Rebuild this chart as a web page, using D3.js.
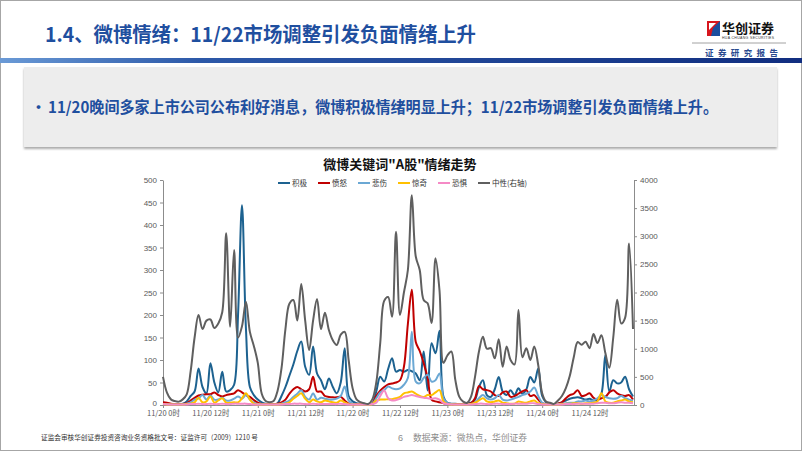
<!DOCTYPE html>
<html>
<head>
<meta charset="utf-8">
<script src="https://cdn.jsdelivr.net/npm/d3@7"></script>
<style>
  body { margin: 0; background: #fff; }
  svg { display: block; font-family: "Noto Sans CJK SC", "Noto Sans", sans-serif; }
</style>
</head>
<body>
<svg id="slide" width="802" height="451"></svg>
<script>
// hourly data, 11/20 0时 .. 11/24 23时
const tickLabels = ['11/20 0时', '11/20 12时', '11/21 0时', '11/21 12时', '11/22 0时',
  '11/22 12时', '11/23 0时', '11/23 12时', '11/24 0时', '11/24 12时'];
const tickHours = [0, 12, 24, 36, 48, 60, 72, 84, 96, 108];
const seriesNames = ['积极', '愤怒', '悲伤', '惊奇', '恐惧', '中性(右轴)'];

const positive = [5, 4, 2, 2, 2, 3, 8, 20, 30, 81,
  40, 26, 93, 50, 28, 74, 30, 33, 45, 200,
  444, 170, 40, 22, 12, 6, 3, 2, 2, 4,
  20, 40, 65, 90, 120, 141, 85, 67, 130, 70,
  55, 35, 59, 40, 26, 50, 126, 20, 8, 4,
  3, 2, 2, 4, 30, 63, 52, 80, 104, 74,
  78, 74, 78, 75, 70, 55, 119, 32, 137, 115,
  165, 19, 5, 3, 3, 2, 2, 3, 5, 12,
  40, 55, 22, 18, 35, 62, 30, 22, 33, 22,
  37, 25, 35, 62, 50, 81, 20, 6, 3, 2,
  3, 6, 10, 14, 16, 17, 15, 12, 14, 10,
  12, 25, 111, 30, 55, 48, 50, 63, 35, 19];
const anger = [6, 5, 3, 2, 2, 2, 4, 10, 16, 21,
  23, 24, 24, 28, 22, 19, 22, 24, 26, 33,
  28, 22, 18, 11, 5, 2, 2, 2, 2, 3,
  6, 12, 25, 35, 40, 35, 30, 35, 63, 30,
  30, 20, 18, 17, 17, 18, 10, 3, 2, 2,
  2, 2, 2, 3, 20, 32, 40, 46, 48, 50,
  55, 85, 180, 256, 140, 120, 93, 60, 12, 8,
  6, 4, 3, 2, 2, 2, 2, 2, 4, 15,
  42, 35, 33, 30, 22, 20, 28, 30, 18, 20,
  25, 30, 33, 20, 22, 12, 4, 2, 2, 2,
  3, 6, 15, 22, 25, 33, 20, 22, 26, 16,
  12, 15, 18, 28, 33, 26, 22, 20, 22, 12];
const sadness = [2, 2, 1, 1, 1, 1, 3, 6, 12, 15,
  22, 12, 21, 12, 12, 16, 10, 10, 14, 19,
  14, 22, 12, 5, 2, 1, 1, 1, 1, 1,
  3, 6, 10, 18, 25, 33, 18, 12, 26, 12,
  16, 14, 12, 12, 14, 20, 41, 10, 3, 1,
  1, 1, 1, 2, 15, 28, 33, 41, 37, 35,
  37, 45, 60, 163, 52, 48, 60, 67, 52, 55,
  70, 15, 4, 2, 1, 1, 1, 1, 2, 5,
  15, 22, 15, 12, 15, 22, 12, 10, 12, 15,
  18, 22, 25, 30, 39, 20, 5, 2, 1, 1,
  2, 3, 4, 5, 5, 8, 8, 10, 8, 10,
  15, 22, 18, 15, 14, 15, 20, 15, 12, 10];
const surprise = [2, 1, 1, 1, 1, 1, 2, 3, 6, 16,
  6, 8, 19, 5, 10, 15, 5, 5, 6, 6,
  15, 26, 12, 3, 1, 1, 1, 1, 1, 1,
  2, 3, 6, 14, 20, 26, 14, 6, 12, 8,
  6, 10, 8, 6, 5, 10, 6, 2, 1, 1,
  1, 1, 1, 2, 10, 12, 12, 13, 13, 15,
  18, 26, 28, 30, 25, 20, 18, 22, 22, 28,
  33, 8, 2, 1, 1, 1, 1, 1, 2, 5,
  10, 15, 8, 6, 8, 10, 5, 4, 3, 3,
  8, 6, 5, 8, 10, 4, 2, 1, 1, 1,
  1, 2, 3, 3, 4, 4, 3, 4, 4, 5,
  8, 26, 8, 5, 5, 8, 10, 12, 8, 6];
const fear = [2, 1, 1, 1, 1, 1, 1, 2, 2, 3,
  2, 2, 3, 2, 2, 3, 2, 2, 3, 3,
  3, 3, 2, 1, 1, 1, 1, 1, 1, 1,
  1, 2, 2, 3, 3, 3, 2, 2, 3, 2,
  2, 2, 2, 2, 2, 3, 2, 1, 1, 1,
  1, 1, 1, 2, 5, 20, 32, 15, 10, 11,
  14, 18, 20, 22, 20, 18, 16, 15, 14, 15,
  12, 4, 2, 1, 1, 1, 1, 1, 1, 2,
  3, 3, 2, 2, 3, 3, 2, 2, 2, 3,
  3, 3, 3, 4, 4, 2, 1, 1, 1, 1,
  1, 1, 2, 2, 2, 3, 3, 3, 3, 3,
  4, 5, 5, 4, 4, 5, 6, 5, 5, 4];
const neutral = [500, 220, 100, 70, 60, 100, 190, 600, 1200, 1600,
  1350, 1500, 1520, 1370, 1450, 1650, 3055, 1392, 2756, 1200,
  1400, 1837, 1300, 1050, 750, 200, 70, 50, 70, 250,
  650, 1350, 1800, 1866, 1500, 2150, 1500, 978, 1500, 1886,
  1350, 1640, 1333, 1150, 1067, 1250, 1300, 800, 300, 100,
  50, 30, 20, 100, 400, 1100, 1850, 1920, 1570, 3080,
  1600, 2000, 2400, 3730, 2640, 2400, 1866, 1807, 1458, 2607,
  2044, 750, 880, 950, 450, 150, 60, 40, 150, 500,
  950, 1215, 1000, 1010, 830, 1170, 680, 1040, 800, 720,
  1690, 850, 1010, 800, 1040, 711, 210, 60, 40, 20,
  80, 160, 300, 520, 850, 1120, 1070, 1126, 1010, 1262,
  1100, 1240, 924, 660, 1200, 1870, 1450, 1550, 2870, 1350];

const leftTicks = [0, 50, 100, 150, 200, 250, 300, 350, 400, 450, 500];
const rightTicks = [0, 500, 1000, 1500, 2000, 2500, 3000, 3500, 4000];

const colors = ['#1d6290', '#c00000', '#6ba8d4', '#ffc000', '#f58ac6', '#5f5f5f'];

const svg = d3.select('#slide');

// ---- slide chrome ----
const defs = svg.append('defs');
const grad = defs.append('linearGradient').attr('id', 'bar').attr('x1', 0).attr('x2', 1);
grad.append('stop').attr('offset', 0).attr('stop-color', '#6a9ad6');
grad.append('stop').attr('offset', 0.25).attr('stop-color', '#2c58a8');
grad.append('stop').attr('offset', 1).attr('stop-color', '#112e80');
const shadow = defs.append('filter').attr('id', 'shadow')
  .attr('x', -0.05).attr('y', -0.1).attr('width', 1.1).attr('height', 1.3);
shadow.append('feDropShadow').attr('dx', 0).attr('dy', 2).attr('stdDeviation', 1.2)
  .attr('flood-color', '#888').attr('flood-opacity', 0.7);

svg.append('rect').attr('x', 0.5).attr('y', 0.5).attr('width', 801).attr('height', 450)
  .attr('fill', '#fff').attr('stroke', '#a6a6a6');

svg.append('text').attr('x', 45).attr('y', 42)
  .attr('font-size', 20).attr('font-weight', 'bold').attr('fill', '#1f4f9f')
  .attr('textLength', 431).attr('lengthAdjust', 'spacingAndGlyphs')
  .text('1.4、微博情绪：11/22市场调整引发负面情绪上升');

// logo
const logo = svg.append('g');
logo.append('path').attr('d', 'M707,21 L720,21 L720,36 L707,36 Z').attr('fill', '#d7161e');
logo.append('path').attr('d', 'M713,28 L720,21 L720,36 L711,36 Z').attr('fill', '#1a4d9e');
logo.append('path').attr('d', 'M709,23 L716,23 L709,30 Z').attr('fill', '#fff');
logo.append('text').attr('x', 722).attr('y', 33).attr('font-size', 13).attr('font-weight', 'bold')
  .attr('fill', '#111').attr('textLength', 52).attr('lengthAdjust', 'spacingAndGlyphs').text('华创证券');
logo.append('text').attr('x', 722).attr('y', 39).attr('font-size', 3.5).attr('fill', '#333')
  .attr('font-family', 'Liberation Sans').attr('textLength', 52).text('HUA CHUANG SECURITIES');
logo.append('line').attr('x1', 692).attr('x2', 786).attr('y1', 43).attr('y2', 43)
  .attr('stroke', '#8c8c8c').attr('stroke-width', 0.8);
logo.append('text').attr('x', 705).attr('y', 56).attr('font-size', 8.5).attr('font-weight', 'bold')
  .attr('fill', '#2a4a8f').attr('textLength', 78).attr('letter-spacing', 5).text('证券研究报告');

svg.append('rect').attr('x', 0).attr('y', 58).attr('width', 802).attr('height', 5).attr('fill', 'url(#bar)');

// summary box
svg.append('rect').attr('x', 24).attr('y', 67).attr('width', 753).attr('height', 80)
  .attr('fill', '#ededed').attr('filter', 'url(#shadow)');
svg.append('text').attr('x', 31).attr('y', 113).attr('font-size', 15).attr('font-weight', 'bold')
  .attr('fill', '#1f4f9f').text('•');
svg.append('text').attr('x', 48).attr('y', 113).attr('font-size', 15.5).attr('font-weight', 'bold')
  .attr('fill', '#1f4f9f').attr('textLength', 670).attr('lengthAdjust', 'spacingAndGlyphs')
  .text('11/20晚间多家上市公司公布利好消息，微博积极情绪明显上升；11/22市场调整引发负面情绪上升。');

// footer
svg.append('text').attr('x', 41).attr('y', 440).attr('font-size', 7).attr('fill', '#333')
  .attr('textLength', 217).attr('lengthAdjust', 'spacingAndGlyphs')
  .text('证监会审核华创证券投资咨询业务资格批文号：证监许可（2009）1210 号');
svg.append('text').attr('x', 398).attr('y', 441).attr('font-size', 9).attr('fill', '#8c8c8c')
  .attr('font-family', 'Liberation Sans').text('6');
svg.append('text').attr('x', 413).attr('y', 441).attr('font-size', 9).attr('fill', '#8c8c8c')
  .attr('textLength', 114).attr('lengthAdjust', 'spacingAndGlyphs').text('数据来源：微热点，华创证券');

// ---- chart ----
const plot = { left: 163, right: 633, top: 180, bottom: 405 };

const x = d3.scaleLinear().domain([0, neutral.length - 1]).range([plot.left, plot.right]);
const yL = d3.scaleLinear().domain([0, 500]).range([plot.bottom, plot.top]);
const yR = d3.scaleLinear().domain([0, 4000]).range([plot.bottom, plot.top]);

svg.append('text').attr('x', 400).attr('y', 169).attr('text-anchor', 'middle')
  .attr('font-size', 13).attr('font-weight', 'bold').attr('fill', '#111')
  .text('微博关键词"A股"情绪走势');

const styleAxis = g => {
  g.select('.domain').attr('stroke', '#8c8c8c');
  g.selectAll('.tick line').attr('stroke', '#8c8c8c');
  g.selectAll('.tick text').attr('fill', '#595959').attr('font-family', 'Liberation Sans, Arial, sans-serif');
};

svg.append('g').attr('transform', `translate(${plot.left},0)`)
  .call(d3.axisLeft(yL).tickValues(leftTicks).tickSize(3).tickSizeOuter(0).tickPadding(3))
  .call(styleAxis)
  .call(g => g.selectAll('.tick text').attr('font-size', 8))
  .call(g => g.selectAll('.tick text').filter(d => d === 0).attr('dy', '0.1em'));

svg.append('g').attr('transform', `translate(${plot.right + 1},0)`)
  .call(d3.axisRight(yR).tickValues(rightTicks).tickFormat(d3.format('d'))
    .tickSize(3).tickSizeOuter(0).tickPadding(3))
  .call(styleAxis)
  .call(g => g.selectAll('.tick text').attr('font-size', 8));

svg.append('g').attr('transform', `translate(0,${plot.bottom})`)
  .call(d3.axisBottom(x).tickValues(tickHours).tickFormat((d, i) => tickLabels[i])
    .tickSize(3).tickSizeOuter(0).tickPadding(3))
  .call(styleAxis)
  .call(g => g.select('.domain').attr('d', `M${plot.left},0.5H${plot.right + 1}`))
  .call(g => g.selectAll('.tick text').attr('font-size', 7.5)
    .attr('font-family', '"Noto Sans CJK SC", sans-serif'));

const series = [positive, anger, sadness, surprise, fear, neutral];
const lineL = d3.line().x((d, i) => x(i)).y(d => yL(d)).curve(d3.curveCatmullRom.alpha(0.5));
const lineR = d3.line().x((d, i) => x(i)).y(d => yR(d)).curve(d3.curveCatmullRom.alpha(0.5));

svg.append('g').selectAll('path')
  .data(series)
  .enter().append('path')
  .attr('d', (d, i) => i === 5 ? lineR(d) : lineL(d))
  .attr('fill', 'none')
  .attr('stroke', (d, i) => colors[i])
  .attr('stroke-width', 2)
  .attr('stroke-linejoin', 'round');

// legend
const legend = svg.append('g').attr('transform', 'translate(278,183)');
const item = legend.selectAll('g').data(seriesNames).enter().append('g')
  .attr('transform', (d, i) => `translate(${i * 40},0)`);
item.append('line').attr('x1', 0).attr('x2', 12).attr('y1', 0).attr('y2', 0)
  .attr('stroke', (d, i) => colors[i]).attr('stroke-width', 2);
item.append('text').attr('x', 14).attr('y', 3).attr('font-size', 7.5).attr('fill', '#333')
  .text(d => d);
</script>
</body>
</html>
